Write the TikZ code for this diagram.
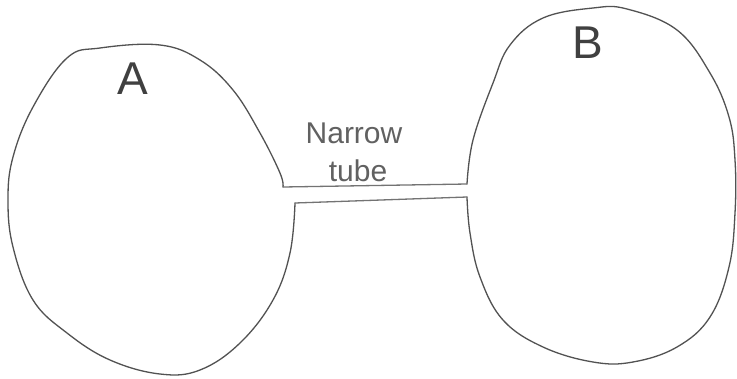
\documentclass[tikz,border=0pt]{standalone}
\usepackage{fontspec}
\setmainfont{Liberation Sans}
\begin{document}
\begin{tikzpicture}[x=1pt,y=-1pt,
  pencil/.style={draw=black!68,line width=1.3pt,line join=round,line cap=round},
  hand/.style={text=black!62,inner sep=0pt},
  bigletter/.style={hand,text=black!75,font=\fontsize{46}{46}\selectfont},
  tubelabel/.style={hand,font=\fontsize{30}{33}\selectfont,align=center}]
\useasboundingbox[fill=white] (0,0) rectangle (737,378);
% tube end points
\coordinate (a1) at (283,187);
\coordinate (a2) at (295,203);
\coordinate (b1) at (467,184);
\coordinate (b2) at (467,197);
% vessel A
\draw[pencil] plot[smooth,tension=0.65] coordinates {(a1) (280,173) (260,133) (233,90) (200,60) (160,45) (100,48) (67,58) (33,107) (13,157) (8,200) (13,247) (33,300) (67,333) (110,360) (160,374) (200,370) (240,343) (273,300) (290,253) (a2)};
% vessel B
\draw[pencil] plot[smooth,tension=0.65] coordinates {(b1) (473,140) (493,83) (510,45) (543,18) (593,8) (627,9) (677,30) (710,73) (729,117) (735,160) (735,213) (729,267) (710,317) (677,347) (633,362) (593,362) (543,347) (503,320) (480,277) (470,233) (b2)};
% narrow tube
\draw[pencil,draw=black!55] (a1) -- (b1);
\draw[pencil,draw=black!55] (a2) -- (b2);
% labels
\node[bigletter] (la) at (133,79) {A};
\node[bigletter] (lb) at (588,43) {B};
\node[tubelabel] (narrow) at (354,133) {Narrow};
\node[tubelabel] (tube) at (358,171) {tube};
\end{tikzpicture}
\end{document}
